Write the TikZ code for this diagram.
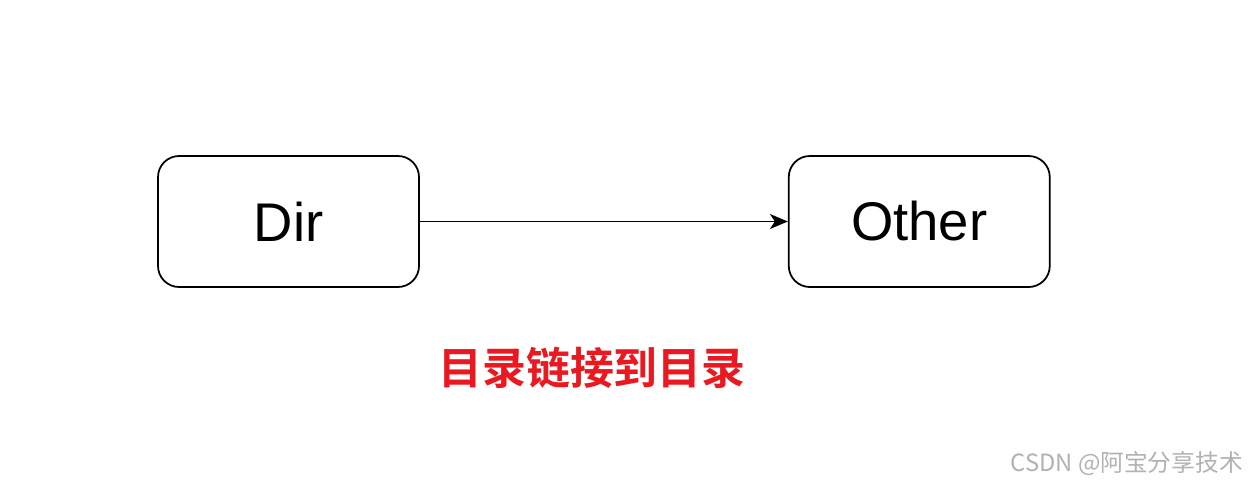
\documentclass[tikz,border=0pt]{standalone}
\usepackage{fontspec}
\setmainfont{Liberation Sans}
\newfontfamily\cjk{Noto Sans CJK SC}
\newfontfamily\cjkbold{Noto Sans CJK SC Bold}
\usetikzlibrary{positioning,arrows.meta}
\definecolor{captionred}{RGB}{234,24,32}
\tikzset{
    dirbox/.style={draw, rounded corners=12pt, line width=1pt, minimum width=5.22cm, minimum height=2.62cm, font=\fontsize{31}{36}\selectfont},
    linkarrow/.style={-{Stealth[length=0.36cm,width=0.3cm,inset=0.1cm]}, line width=1pt}
}
\begin{document}
\begin{tikzpicture}
        \useasboundingbox[fill=white] (0,0) rectangle (25.04,-9.7);

        %%%%%%%%% Nodi %%%%%%%%%
        \node[dirbox] (dir) at (5.77,-4.43) {Dir};
        \node[dirbox, right=7.36cm of dir] (other) {Other};

        %%%%%%%% Freccia %%%%%%%%
        \draw[linkarrow] (dir) -- (other);

        %%%%%%%% Legenda %%%%%%%%
        \node[text=captionred, font=\cjkbold\fontsize{25}{30}\selectfont] (caption) at (11.84,-7.36) {目录链接到目录};
        \node[anchor=east, text=gray!60, font=\cjk\fontsize{13.5}{16}\selectfont] (mark) at (24.98,-9.26) {CSDN @阿宝分享技术};
    \end{tikzpicture}
\end{document}
